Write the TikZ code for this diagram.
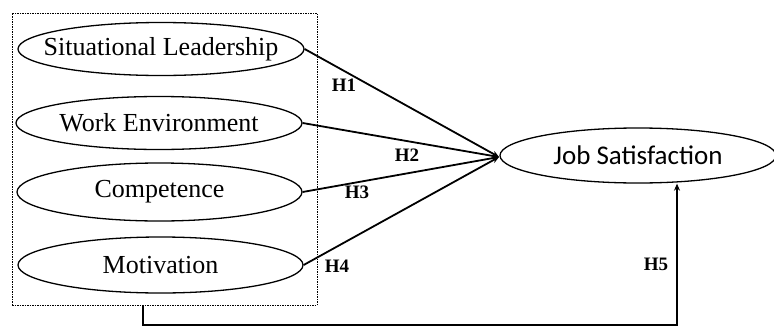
\documentclass[tikz,border=0pt]{standalone}
\usepackage{fontspec}
\setmainfont{Liberation Serif}
\newfontfamily\calib{Carlito}
\usetikzlibrary{shapes.geometric,arrows.meta}
\begin{document}
\begin{tikzpicture}[x=1pt,y=-1pt,
  var/.style={draw, ellipse, line width=1.3pt, inner sep=0pt, text=black,
    font=\fontsize{26}{28}\selectfont},
  hyp/.style={font=\bfseries\fontsize{19}{21}\selectfont, inner sep=0pt},
  link/.style={line width=1.8pt, -{Stealth[length=7pt,width=6pt]}}]
\useasboundingbox (0,0) rectangle (774,327);
\node[draw, line width=0.9pt, dash pattern=on 1.5pt off 1pt, minimum width=305pt, minimum height=292pt, inner sep=0pt] (box) at (164.5,159) {};
\node[var, minimum width=286pt, minimum height=53pt] (sl) at (161,49) {\makebox[0pt]{Situational Leadership}};
\node[var, minimum width=286pt, minimum height=53pt] (we) at (159,123) {\makebox[0pt]{Work Environment}};
\node[var, minimum width=285pt, minimum height=58pt] (co) at (159.5,192) {\makebox[0pt]{Competence}};
\node[var, minimum width=285pt, minimum height=56pt] (mo) at (160.5,265) {\makebox[0pt]{Motivation}};
\node[var, minimum width=276pt, minimum height=55pt, font=\calib\fontsize{27}{29}\selectfont] (js) at (638,155.5) {\makebox[0pt]{Job Satisfaction}};
\coordinate (c) at (499,157);
\draw[link] (sl.east) -- (c);
\draw[link] (we.east) -- (c);
\draw[link] (co.east) -- (c);
\draw[link] (mo.east) -- (c);
\node[hyp] (h1) at (344,85) {H1};
\node[hyp] (h2) at (407,155) {H2};
\node[hyp] (h3) at (357,192) {H3};
\node[hyp] (h4) at (337,266) {H4};
\node[hyp] (h5) at (656,264) {H5};
\coordinate (b1) at (143,325);
\coordinate (b2) at (677,325);
\draw[line width=1.8pt, -{Stealth[length=7pt,width=6pt]}] (box.south -| b1) -- (b1) -- (b2) -- (b2 |- js.south);
\end{tikzpicture}
\end{document}
